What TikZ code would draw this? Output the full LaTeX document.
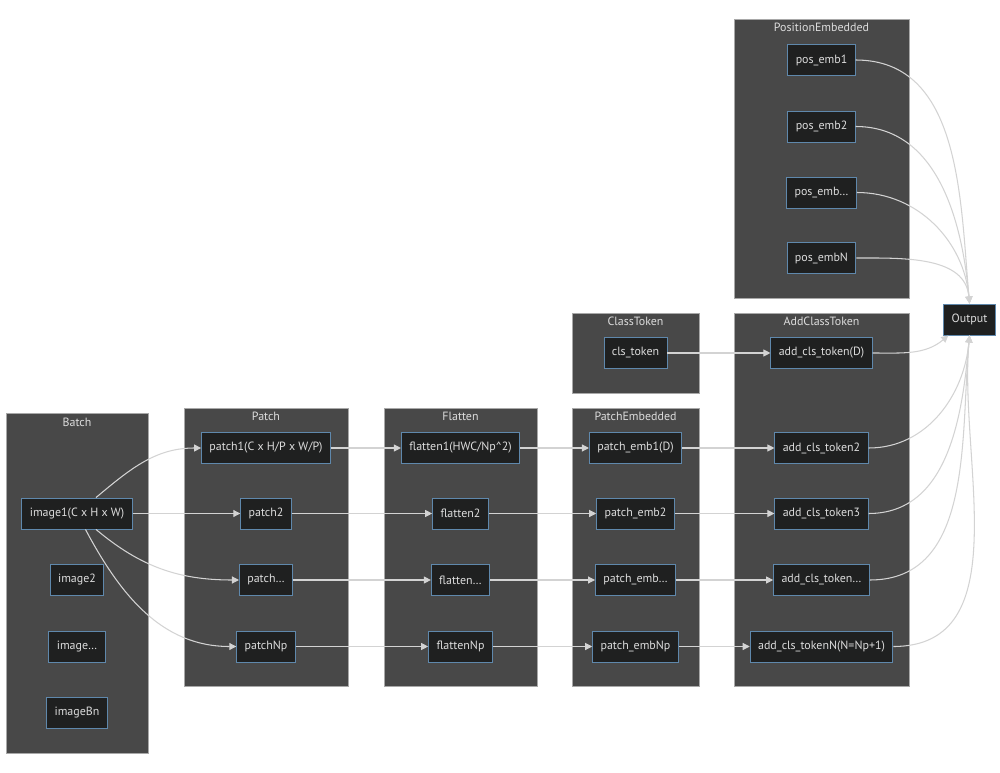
\documentclass[tikz,border=0pt]{standalone}
\usepackage{fontspec}
\setmainfont{PT Sans}
\usetikzlibrary{arrows.meta}
\definecolor{clusterfill}{HTML}{484848}
\definecolor{clusterline}{HTML}{A8A8A8}
\definecolor{boxfill}{HTML}{1F2020}
\definecolor{boxline}{HTML}{5F88AC}
\definecolor{textgray}{HTML}{DDDDDD}
\definecolor{linkgray}{HTML}{D3D3D3}
\begin{document}
\begin{tikzpicture}[x=0.02cm,y=-0.02cm,
        every node/.style={font=\fontsize{6.8}{8}\selectfont,text=textgray},
        box/.style={draw=boxline,fill=boxfill,minimum height=0.62cm,inner xsep=4.5pt,line width=0.5pt},
        cluster/.style={draw=clusterline,fill=clusterfill,line width=0.5pt},
        ctitle/.style={anchor=north,inner sep=1pt},
        link/.style={draw=linkgray,line width=0.6pt,-{Triangle[length=4pt,width=4pt]}}
    ]
    \useasboundingbox (0,0) rectangle (1000,773);
    % clusters
    \draw[cluster] (6,413) rectangle (148,753);
    \node[ctitle] at (77,416) {Batch};
    \draw[cluster] (184,408) rectangle (348,686);
    \node[ctitle] at (266,410) {Patch};
    \draw[cluster] (384,408) rectangle (537,686);
    \node[ctitle] at (460.5,410) {Flatten};
    \draw[cluster] (572,408) rectangle (699,686);
    \node[ctitle] at (635.5,410) {PatchEmbedded};
    \draw[cluster] (572,313) rectangle (699,393);
    \node[ctitle] at (635.5,315) {ClassToken};
    \draw[cluster] (734,313) rectangle (909,686);
    \node[ctitle] at (821.5,315) {AddClassToken};
    \draw[cluster] (734,19) rectangle (909,298);
    \node[ctitle] at (821.5,21) {PositionEmbedded};
    % nodes
    \node[box] (img1) at (77,513.5) {image1(C x H x W)};
    \node[box] (img2) at (77,580) {image2};
    \node[box] (img3) at (77,646.5) {image…};
    \node[box] (img4) at (77,712.5) {imageBn};
    \node[box] (pat1) at (266,448) {patch1(C x H/P x W/P)};
    \node[box] (pat2) at (266,513.5) {patch2};
    \node[box] (pat3) at (266,580) {patch…};
    \node[box] (pat4) at (266,646.5) {patchNp};
    \node[box] (fla1) at (460.5,448) {flatten1(HWC/Np\^{}2)};
    \node[box] (fla2) at (460.5,513.5) {flatten2};
    \node[box] (fla3) at (460.5,580) {flatten…};
    \node[box] (fla4) at (460.5,646.5) {flattenNp};
    \node[box] (emb1) at (635.5,448) {patch\_emb1(D)};
    \node[box] (emb2) at (635.5,513.5) {patch\_emb2};
    \node[box] (emb3) at (635.5,580) {patch\_emb…};
    \node[box] (emb4) at (635.5,646.5) {patch\_embNp};
    \node[box] (cls) at (635.5,353) {cls\_token};
    \node[box] (add0) at (821.5,353) {add\_cls\_token(D)};
    \node[box] (add1) at (821.5,448) {add\_cls\_token2};
    \node[box] (add2) at (821.5,513.5) {add\_cls\_token3};
    \node[box] (add3) at (821.5,580) {add\_cls\_token…};
    \node[box] (add4) at (821.5,646.5) {add\_cls\_tokenN(N=Np+1)};
    \node[box] (pos1) at (821.5,60) {pos\_emb1};
    \node[box] (pos2) at (821.5,126.5) {pos\_emb2};
    \node[box] (pos3) at (821.5,192.5) {pos\_emb…};
    \node[box] (pos4) at (821.5,258) {pos\_embN};
    \node[box] (out) at (969.5,319.5) {Output};
    % links
    \draw[link] (img1) to[out=40,in=180] (pat1.west);
    \draw[link] (img1.east) -- (pat2.west);
    \draw[link] (img1) to[out=-40,in=180] (pat3.west);
    \draw[link] (img1) to[out=-62,in=180] (pat4.west);
    \foreach \i in {1,...,4}{
        \draw[link] (pat\i.east) -- (fla\i.west);
        \draw[link] (fla\i.east) -- (emb\i.west);
        \draw[link] (emb\i.east) -- (add\i.west);
        \draw[link] (pos\i.east) to[out=0,in=95] (out.north);
        \draw[link] (add\i.east) to[out=0,in=-95] (out.south);
    }
    \draw[link] (cls.east) -- (add0.west);
    \draw[link] (add0.east) to[out=0,in=-140] ([xshift=0.1cm]out.south west);
\end{tikzpicture}
\end{document}
